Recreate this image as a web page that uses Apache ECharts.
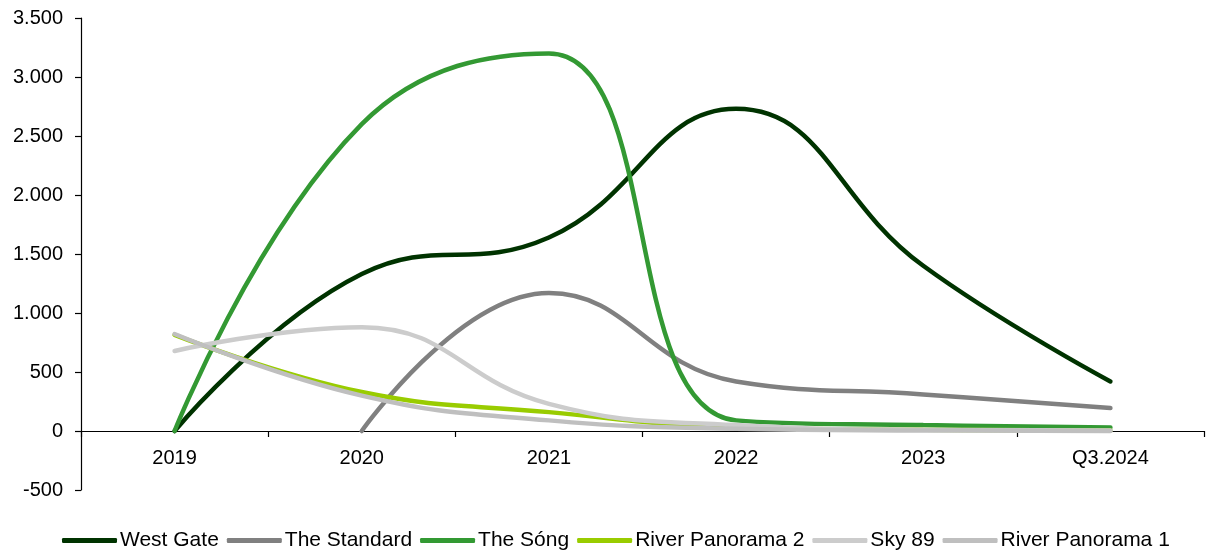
<!DOCTYPE html>
<html><head><meta charset="utf-8">
<script src="https://cdn.jsdelivr.net/npm/echarts@6/dist/echarts.min.js"></script>
<style>html,body{margin:0;padding:0;background:#fff}#c{width:1214px;height:552px}</style>
</head><body><div id="c"></div>
<script>
const categories = ['2019','2020','2021','2022','2023','Q3.2024'];
const westGate = [0, 1330, 1640, 2730, 1400, 420];
const theStandard = [null, 0, 1170, 420, 310, 195];
const theSong = [0, 2600, 3200, 90, 50, 30];
const riverPanorama2 = [815, 330, 160, 30, 10, 5];
const sky89 = [678, 880, 230, 50, 10, 5];
const riverPanorama1 = [822, 300, 90, 20, 5, 0];
const yTickValues = [-500, 0, 500, 1000, 1500, 2000, 2500, 3000, 3500];
const names = ['West Gate','The Standard','The Sóng','River Panorama 2','Sky 89','River Panorama 1'];
const colors = ['#003300','#808080','#339933','#99CC00','#CCCCCC','#BFBFBF'];
const seriesData = [westGate, theStandard, theSong, riverPanorama2, sky89, riverPanorama1];

const font = '"Liberation Sans", Arial, sans-serif';
const chart = echarts.init(document.getElementById('c'));
chart.setOption({
  animation: false,
  grid: {left: 81, right: 10, top: 18, bottom: 62, containLabel: false},
  legend: {
    top: 525, left: 57, icon: 'roundRect', itemWidth: 55, itemHeight: 5, itemGap: 8,
    textStyle: {fontFamily: font, fontSize: 21, color: '#000', padding: [0,0,0,-2]},
    data: names
  },
  xAxis: {
    type: 'category', data: categories, boundaryGap: true, position: 'bottom',
    offset: -59,
    axisLine: {onZero: false, lineStyle: {color: '#000', width: 1.2}},
    axisTick: {show: true, length: 6, lineStyle: {color: '#000', width: 1.2}},
    axisLabel: {fontFamily: font, fontSize: 20, color: '#000', margin: 17}
  },
  yAxis: {
    type: 'value', min: yTickValues[0], max: yTickValues[yTickValues.length-1], interval: 500,
    axisLine: {show: true, lineStyle: {color: '#000', width: 1.2}},
    axisTick: {show: true, length: 6, lineStyle: {color: '#000', width: 1.2}},
    splitLine: {show: false},
    axisLabel: {fontFamily: font, fontSize: 20, color: '#000', margin: 18,
      formatter: v => String(v).replace(/\B(?=(\d{3})+(?!\d))/g, '.')}
  },
  series: names.map((n, i) => ({
    name: n, type: 'line', data: seriesData[i], smooth: 0.45, symbol: 'none',
    connectNulls: false,
    lineStyle: {color: colors[i], width: 4.5, cap: 'round'},
    itemStyle: {color: colors[i]}
  }))
});
</script></body></html>
